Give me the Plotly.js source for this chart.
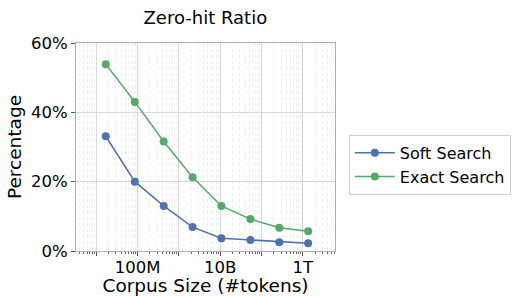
<!DOCTYPE html>
<html>
<head>
<meta charset="utf-8">
<script src="https://cdn.plot.ly/plotly-3.0.1.min.js"></script>
<style>html,body{margin:0;padding:0;background:#fff;}#chart{width:516px;height:296px;}</style>
</head>
<body>
<div id="chart"></div>
<script>
const corpusSizes = [1.7e7, 8.6e7, 4.3e8, 2.15e9, 1.07e10, 5.4e10, 2.7e11, 1.35e12];
const softSearch = [33.1, 20.0, 13.0, 6.9, 3.7, 3.2, 2.5, 2.2];
const exactSearch = [53.9, 43.0, 31.6, 21.3, 13.0, 9.2, 6.7, 5.7];
const xTickVals = [1e7, 1e8, 1e9, 1e10, 1e11, 1e12];
const xTickText = ['', '100M', '', '10B', '', '1T'];
const yTickVals = [0, 20, 40, 60];
const yTickText = ['0%', '20%', '40%', '60%'];

const font = 'DejaVu Sans, sans-serif';
const traces = [
  {x: corpusSizes, y: softSearch, name: 'Soft Search', mode: 'lines+markers',
   line: {color: '#4C72B0', width: 1.5}, marker: {color: '#4C72B0', size: 8}},
  {x: corpusSizes, y: exactSearch, name: 'Exact Search', mode: 'lines+markers',
   line: {color: '#55A868', width: 1.5}, marker: {color: '#55A868', size: 8}}
];
const layout = {
  width: 516, height: 296,
  margin: {l: 76, r: 181, t: 43, b: 45},
  paper_bgcolor: '#fff', plot_bgcolor: '#fff',
  font: {family: font, size: 16, color: '#000'},
  title: {text: 'Zero-hit Ratio', font: {family: font, size: 18, color: '#000'}, x: 0.398, xanchor: 'center', y: 0.94, yanchor: 'middle'},
  xaxis: {
    type: 'log', range: [6.51, 12.78],
    tickmode: 'array', tickvals: xTickVals, ticktext: xTickText,
    showgrid: true, gridcolor: '#d8d8d8', gridwidth: 1,
    ticks: 'outside', ticklen: 4, tickcolor: '#555', ticklabelstandoff: -3,
    showline: true, linecolor: '#b0b0b0', linewidth: 1, mirror: true,
    zeroline: false,
    minor: {dtick: 'D1', showgrid: true, griddash: 'dot', gridcolor: '#efefef', gridwidth: 1, ticks: 'outside', ticklen: 2, tickcolor: '#666'},
    title: {text: 'Corpus Size (#tokens)', font: {family: font, size: 18.5, color: '#000'}, standoff: 7},
    tickfont: {family: font, size: 16.5, color: '#000'}
  },
  yaxis: {
    range: [0, 60], tickmode: 'array', tickvals: yTickVals, ticktext: yTickText,
    showgrid: true, gridcolor: '#d8d8d8', gridwidth: 1,
    ticks: 'outside', ticklen: 4, tickcolor: '#555',
    showline: true, linecolor: '#b0b0b0', linewidth: 1, mirror: true,
    zeroline: false,
    title: {text: 'Percentage', font: {family: font, size: 18.5, color: '#000'}, standoff: 4},
    tickfont: {family: font, size: 16.5, color: '#000'}
  },
  legend: {
    xref: 'container', yref: 'container',
    x: 0.676, xanchor: 'left', y: 0.443, yanchor: 'middle',
    bordercolor: '#d0d0d0', borderwidth: 1, bgcolor: '#fff',
    itemwidth: 40,
    font: {family: font, size: 16, color: '#000'}
  },
  showlegend: true
};
Plotly.newPlot('chart', traces, layout, {staticPlot: true, displayModeBar: false});
</script>
</body>
</html>
